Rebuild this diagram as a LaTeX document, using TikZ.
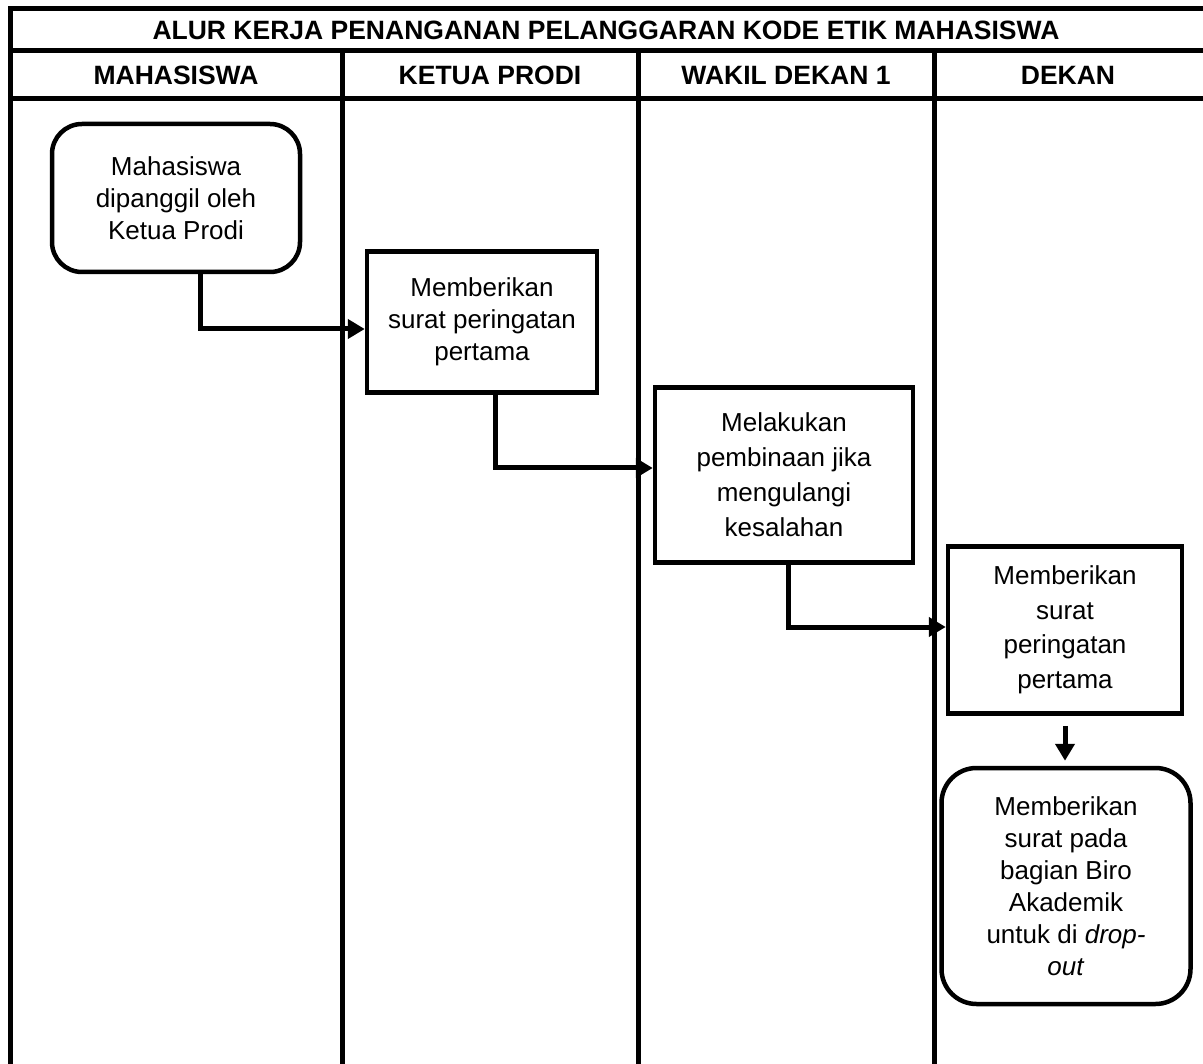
\documentclass[tikz,border=0pt]{standalone}
\usepackage{fontspec}
\setmainfont{Liberation Sans}
\usetikzlibrary{arrows.meta}

\tikzset{
  garis/.style={line width=5pt},
  judul/.style={font=\fontsize{26.5}{30}\selectfont\bfseries},
  kotak/.style={draw, line width=4.5pt, align=center, inner sep=0pt,
    font=\fontsize{26}{32}\selectfont},
  kotakbulat/.style={kotak, rounded corners=30pt},
  alur/.style={-{Triangle[length=17pt,width=19pt]}, line width=5pt},
}

\begin{document}
\begin{tikzpicture}[x=1pt, y=-1pt]
	\useasboundingbox (0,0) rectangle (1203,1064);

	% Tabel
	\draw[garis] (10,9) -- (1203,9);
	\draw[garis] (10,51) -- (1203,51);
	\draw[garis] (10,99) -- (1203,99);
	\draw[garis] (10,6.5) -- (10,1064);
	\foreach \x in {342,638,934}
		\draw[garis] (\x,51) -- (\x,1064);

	% Judul dan kolom
	\node[judul] (judul) at (606,30) {ALUR KERJA PENANGANAN PELANGGARAN KODE ETIK MAHASISWA};
	\node[judul] (mhs) at (176,75) {MAHASISWA};
	\node[judul] (kaprodi) at (490,75) {KETUA PRODI};
	\node[judul] (wadek) at (786,75) {WAKIL DEKAN 1};
	\node[judul] (dekan) at (1068,75) {DEKAN};

	% Langkah
	\node[kotakbulat, minimum width=248pt, minimum height=148pt] (panggil) at (176,198)
		{Mahasiswa\\dipanggil oleh\\Ketua Prodi};
	\node[kotak, minimum width=230pt, minimum height=141pt] (surat1) at (482,322)
		{Memberikan\\surat peringatan\\pertama};
	\node[kotak, minimum width=258pt, minimum height=175pt, font=\fontsize{26}{35}\selectfont] (bina) at (784,475)
		{Melakukan\\pembinaan jika\\mengulangi\\kesalahan};
	\node[kotak, minimum width=234pt, minimum height=167pt, font=\fontsize{26}{34.5}\selectfont] (surat2) at (1065,630)
		{Memberikan\\surat\\peringatan\\pertama};
	\node[kotakbulat, rounded corners=35pt, minimum width=249pt, minimum height=236pt] (biro) at (1066,886)
		{Memberikan\\surat pada\\bagian Biro\\Akademik\\untuk di \textit{drop-}\\\textit{out}};

	% Panah
	\draw[alur] ([xshift=24pt]panggil.south) |- ([yshift=-7pt]surat1.west);
	\draw[alur] ([xshift=13pt]surat1.south) |- ([yshift=7pt]bina.west);
	\draw[alur] ([xshift=4pt]bina.south) |- ([yshift=3pt]surat2.west);
	\draw[alur, shorten <=10pt, shorten >=5pt] (surat2.south) -- (surat2.south |- biro.north);
\end{tikzpicture}
\end{document}
